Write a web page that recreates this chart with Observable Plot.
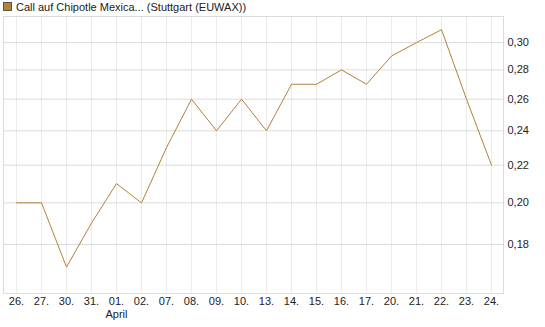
<!DOCTYPE html>
<html>
<head>
<meta charset="utf-8">
<script src="https://cdn.jsdelivr.net/npm/d3@7"></script>
<script src="https://cdn.jsdelivr.net/npm/@observablehq/plot@0.6"></script>
<style>
  html, body { margin: 0; padding: 0; background: #fff; }
  body { font-family: "Liberation Sans", Arial, sans-serif; position: relative; width: 545px; height: 327px; overflow: hidden; }
  #legend { position: absolute; left: 3px; top: 0px; font-size: 11px; color: #222; line-height: 14px; white-space: nowrap; }
  #legend .sw { display: inline-block; width: 7px; height: 7px; background: #b5803a; border: 1px solid #555; vertical-align: -0px; margin-right: 4px; }
  #chart { position: absolute; left: 0; top: 0; }
</style>
</head>
<body>
<div id="chart"></div>
<div id="legend"><span class="sw"></span>Call auf Chipotle Mexica... (Stuttgart (EUWAX))</div>
<script>
const dates = ["26.", "27.", "30.", "31.", "01.", "02.", "07.", "08.", "09.", "10.", "13.", "14.", "15.", "16.", "17.", "20.", "21.", "22.", "23.", "24."];
const prices = [0.20, 0.20, 0.17, 0.19, 0.21, 0.20, 0.23, 0.26, 0.24, 0.26, 0.24, 0.27, 0.27, 0.28, 0.27, 0.29, 0.30, 0.31, 0.26, 0.22];
const yTicks = [0.18, 0.20, 0.22, 0.24, 0.26, 0.28, 0.30];
const monthLabels = [{date: "01.", label: "April"}];
const seriesName = "Call auf Chipotle Mexica... (Stuttgart (EUWAX))";

const data = dates.map((d, i) => ({date: d, price: prices[i]}));
const fmt = v => v.toFixed(2).replace(".", ",");

const chart = Plot.plot({
  width: 545,
  height: 327,
  marginLeft: 3,
  marginRight: 42,
  marginTop: 16,
  marginBottom: 34,
  style: {fontFamily: "'Liberation Sans', Arial, sans-serif", fontSize: "11px", color: "#222", background: "#fff"},
  x: {type: "point", domain: dates, padding: 0.5},
  y: {type: "log", domain: [0.159, 0.3205]},
  marks: [
    Plot.gridX(dates, {stroke: "#ebebeb", strokeOpacity: 1}),
    Plot.gridY(yTicks, {stroke: "#dcdcdc", strokeOpacity: 1}),
    Plot.frame({stroke: "#dcdcdc"}),
    Plot.axisX({tickSize: 0, tickPadding: 4, label: null, fill: "#222"}),
    Plot.text(monthLabels, {x: "date", text: "label", frameAnchor: "bottom", dy: 21, lineAnchor: "middle", fill: "#222"}),
    Plot.axisY(yTicks, {anchor: "right", tickSize: 0, tickPadding: 4, tickFormat: fmt, label: null, fill: "#222"}),
    Plot.line(data, {x: "date", y: "price", stroke: "#b5803a", strokeWidth: 1})
  ]
});
document.getElementById("chart").appendChild(chart);
</script>
</body>
</html>
